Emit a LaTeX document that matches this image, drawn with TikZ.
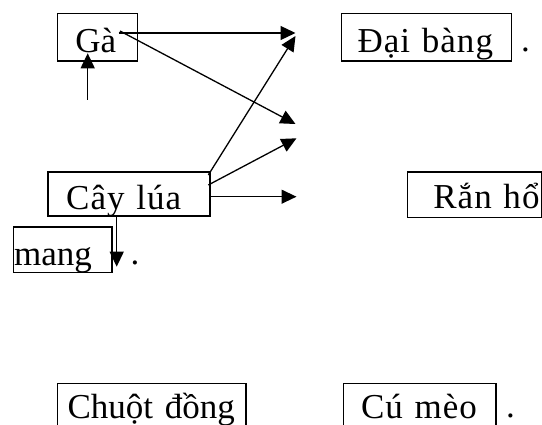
\documentclass[tikz,border=0pt]{standalone}
\usepackage{fontspec}
\setmainfont{Liberation Serif}
\newfontfamily\spfont[LetterSpace=3]{Liberation Serif}
\usetikzlibrary{arrows.meta}
\tikzset{
  tbox/.style n args={5}{draw, line width=1.7pt, anchor=north west, inner ysep=0pt,
    inner xsep=#1, text width=#2, text height=#3, text depth=#4, align=left,
    font=\fontsize{35}{40}\selectfont#5},
  dotmark/.style={anchor=base west, inner sep=0pt, font=\fontsize{35}{40}\selectfont},
  conn/.style={line width=1.3pt, -{Triangle[length=15pt,width=14pt]}}
}
\begin{document}
\begin{tikzpicture}[x=1pt,y=1pt]
\useasboundingbox (0,0) rectangle (542,-425);
% boxes
\node[tbox={17.8pt}{44.4pt}{39pt}{8.3pt}{}] (ga) at (56.7,-12.7) {\mbox{Gà}};
\node[tbox={16pt}{138pt}{39pt}{8.3pt}{\spfont}] (daibang) at (340.7,-12.7) {\mbox{Đại bàng}};
\node[tbox={18pt}{126pt}{37.3pt}{7.2pt}{\spfont}] (caylua) at (47.3,-171) {\mbox{Cây lúa}};
\node[tbox={25.8pt}{83pt}{36.5pt}{8.7pt}{\spfont}] (ranho) at (406.7,-171.5) {\mbox{Rắn hổ}};
\node[tbox={0.5pt}{97.3pt}{39pt}{6.7pt}{}] (mang) at (12.7,-226) {\mbox{mang}};
\node[tbox={10pt}{168.3pt}{35pt}{20pt}{}] (chuot) at (56.7,-382.7) {\mbox{Chuột đồng}};
\node[tbox={17.5pt}{117.3pt}{35.3pt}{20pt}{\spfont}] (cumeo) at (342.7,-382.7) {\mbox{Cú mèo}};
% trailing dots
\node[dotmark] (dot1) at (521,-52) {.};
\node[dotmark] (dot2) at (130.5,-265) {.};
\node[dotmark] (dot3) at (506,-418) {.};
% connector ends
\coordinate (g1) at (118.5,-33);
\coordinate (g2) at (120,-31);
\coordinate (t1) at (295.5,-33);
\coordinate (t2) at (295.5,-124);
\coordinate (u0) at (87.7,-100);
\coordinate (u1) at (87.7,-53.3);
\coordinate (c1) at (208.3,-175);
\coordinate (c2) at (208.3,-185);
\coordinate (c3) at (209.3,-196.7);
\coordinate (t4) at (295.5,-36);
\coordinate (t5) at (296.5,-138.3);
\coordinate (t6) at (296.5,-196.7);
\coordinate (d0) at (116.7,-215.5);
\coordinate (d1) at (116.7,-266.7);
% connectors
\draw[conn] (g1) -- (t1);
\draw[conn] (g2) -- (t2);
\draw[conn] (u0) -- (u1);
\draw[conn] (c1) -- (t4);
\draw[conn] (c2) -- (t5);
\draw[conn] (c3) -- (t6);
\draw[conn] (d0) -- (d1);
\end{tikzpicture}
\end{document}
